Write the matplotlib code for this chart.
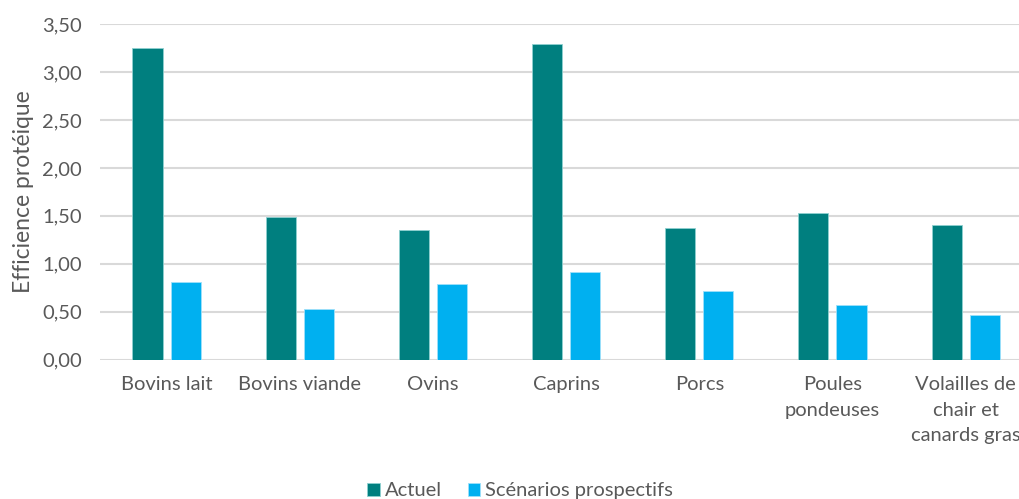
import matplotlib.pyplot as plt
import numpy as np

categories = ['Bovins lait', 'Bovins viande', 'Ovins', 'Caprins', 'Porcs',
              'Poules\npondeuses', 'Volailles de\nchair et\ncanards gras']
actuel = [3.25, 1.49, 1.35, 3.29, 1.37, 1.53, 1.40]
prospectif = [0.81, 0.53, 0.79, 0.92, 0.72, 0.57, 0.47]
yticks = [0, 0.5, 1.0, 1.5, 2.0, 2.5, 3.0, 3.5]

plt.rcParams['font.family'] = ['Lato', 'DejaVu Sans']
grey = '#595959'

fig = plt.figure(figsize=(10.2, 4.99), dpi=100)
# la zone de tracé déborde légèrement à droite, comme dans l'original
ax = fig.add_axes([0.098, 0.279, 0.914, 0.673])

x = np.arange(len(categories))
w = 0.226
ax.bar(x - 0.143, actuel, w, color='#007F7F', edgecolor='#8fd0d0', linewidth=0.6,
       label='Actuel', zorder=3)
ax.bar(x + 0.143, prospectif, w, color='#00B0F0', edgecolor='#9fe0fa', linewidth=0.6,
       label='Scénarios prospectifs', zorder=3)

ax.set_xlim(-0.5, len(categories) - 0.5)
ax.set_ylim(0, 3.5)
ax.set_yticks(yticks)
ax.set_yticklabels([f'{v:.2f}'.replace('.', ',') for v in yticks])
ax.set_xticks(x)
ax.set_xticklabels(categories, va='top', linespacing=1.6)
ax.tick_params(axis='both', length=0, labelsize=14.5, colors=grey)
ax.tick_params(axis='y', pad=13)
ax.tick_params(axis='x', pad=12)
ax.yaxis.grid(True, color='#D9D9D9', linewidth=1.5, zorder=0)
ax.set_axisbelow(True)
for s in ax.spines.values():
    s.set_visible(False)

ax.set_ylabel('Efficience protéique', fontsize=16.5, color=grey, labelpad=6)

fig.legend(loc='lower center', bbox_to_anchor=(0.51, -0.037), ncol=2, frameon=False,
           fontsize=14.5, labelcolor=grey, handlelength=0.6, handleheight=0.6,
           handletextpad=0.25, columnspacing=1.3)

fig.savefig('out.png', dpi=100)
